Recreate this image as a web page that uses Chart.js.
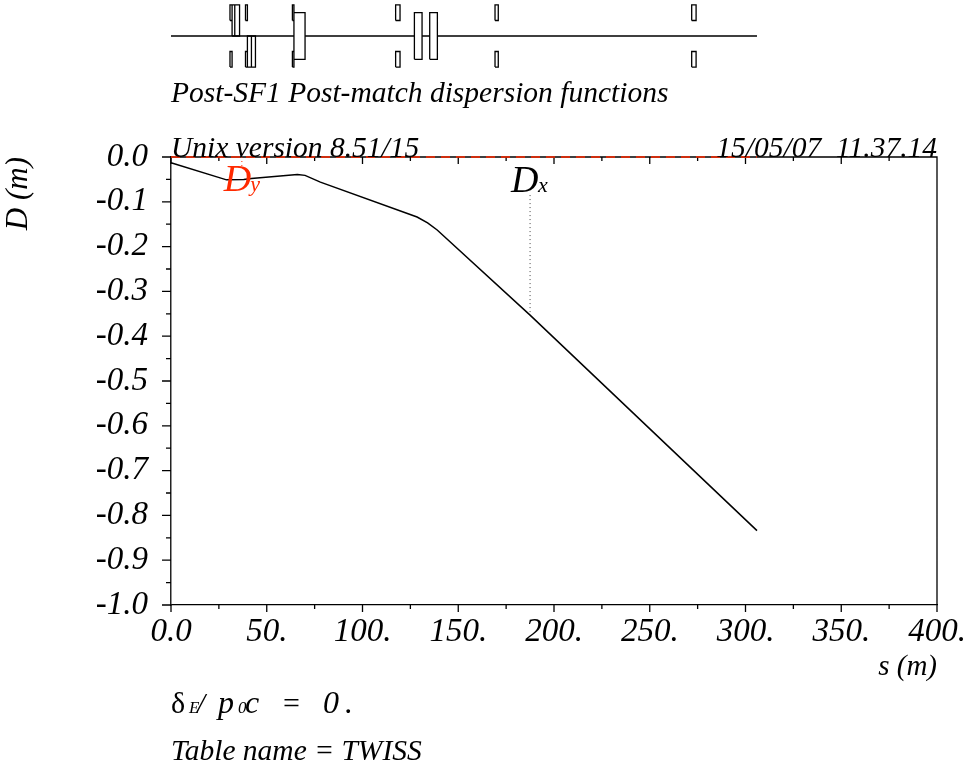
<!DOCTYPE html>
<html>
<head>
<meta charset="utf-8">
<title>Post-SF1 Post-match dispersion functions</title>
<script src="https://cdn.jsdelivr.net/npm/chart.js@4"></script>
<style>
    html, body { margin: 0; background: #fff; }
    canvas { position: absolute; left: 0; top: 0; }
</style>
</head>
<body>
<canvas id="mainChart" width="965" height="765"></canvas>
<canvas id="latticeChart" width="965" height="72"></canvas>
<script>
// Dispersion curves
const sValues = [0, 29, 38, 42, 66, 70, 78, 128.5, 134, 139, 187.5, 306];
const dxValues = [-0.013, -0.051, -0.05, -0.048, -0.039, -0.041, -0.056, -0.134, -0.147, -0.163, -0.353, -0.834];
const dyS = [0, 306];
const dyValues = [0, 0];

// Leader lines from the curve labels
const dxLeaderS = [187.5, 187.5];
const dxLeaderD = [-0.085, -0.353];
const dyLeaderS = [37, 37];
const dyLeaderD = [0, -0.02];

// Axis labels
const xTickLabels = ['0.0', '50.', '100.', '150.', '200.', '250.', '300.', '350.', '400.'];
const yTickLabels = ['0.0', '-0.1', '-0.2', '-0.3', '-0.4', '-0.5', '-0.6', '-0.7', '-0.8', '-0.9', '-1.0'];

// Machine layout strip: [s start, s end, low, high]
const latticeElements = [
    [30.8, 31.9, 0.5, 1], [30.8, 31.9, -1, -0.5],
    [31.9, 33.3, 0, 1], [33.3, 35.8, 0, 1],
    [38.9, 39.9, 0.5, 1], [38.9, 39.9, -1, -0.5],
    [39.9, 42.0, -1, 0], [42.0, 44.1, -1, 0],
    [63.4, 64.2, 0.5, 1], [63.4, 64.2, -1, -0.5],
    [64.2, 70.0, -0.75, 0.75],
    [117.3, 119.6, 0.5, 1], [117.3, 119.6, -1, -0.5],
    [127.1, 131.1, -0.75, 0.75], [135.1, 139.1, -0.75, 0.75],
    [169.2, 170.9, 0.5, 1], [169.2, 170.9, -1, -0.5],
    [271.9, 274.2, 0.5, 1], [271.9, 274.2, -1, -0.5]
];
const beamSegments = [[0, 64.2], [70.0, 127.1], [131.1, 135.1], [139.1, 306]];

const SERIF = '"Liberation Serif", serif';

const toPoints = (xs, ys) => xs.map((x, i) => ({ x, y: ys[i] }));

function latticePoints() {
    const pts = [];
    latticeElements.forEach(([a, b, lo, hi]) => {
        pts.push({ x: a, y: lo }, { x: a, y: hi }, { x: b, y: hi }, { x: b, y: lo }, { x: a, y: lo }, { x: a, y: null });
    });
    return pts;
}

function beamPoints() {
    const pts = [];
    beamSegments.forEach(([a, b]) => {
        pts.push({ x: a, y: 0 }, { x: b, y: 0 }, { x: b, y: null });
    });
    return pts;
}

// Top/right frame lines and the two tick lengths
const framePlugin = {
    id: 'frame',
    beforeDatasetsDraw(chart) {
        const { ctx, chartArea: a, scales } = chart;
        ctx.save();
        ctx.strokeStyle = '#000';
        ctx.lineWidth = 1.3;
        ctx.beginPath();
        ctx.moveTo(a.left, a.top);
        ctx.lineTo(a.right, a.top);
        ctx.lineTo(a.right, a.bottom);
        scales.x.ticks.forEach(t => {
            const px = scales.x.getPixelForValue(t.value);
            const len = t.label ? 7 : 4;
            ctx.moveTo(px, a.top);
            ctx.lineTo(px, a.top + len);
            ctx.moveTo(px, a.bottom);
            ctx.lineTo(px, a.bottom + len);
        });
        scales.y.ticks.forEach(t => {
            const py = scales.y.getPixelForValue(t.value);
            ctx.moveTo(a.left - (t.label ? 9 : 5), py);
            ctx.lineTo(a.left, py);
        });
        ctx.stroke();
        ctx.restore();
    }
};

// Free text around the plot
const textPlugin = {
    id: 'annotations',
    afterDraw(chart) {
        const { ctx } = chart;
        const put = (text, x, y, font, color, align) => {
            ctx.font = font;
            ctx.fillStyle = color || '#000';
            ctx.textAlign = align || 'left';
            ctx.textBaseline = 'alphabetic';
            ctx.fillText(text, x, y);
        };
        const big = 'italic 29.5px ' + SERIF;
        ctx.save();
        put('Post-SF1 Post-match dispersion functions', 171, 102, big);
        put('Unix version 8.51/15', 171, 157, big);
        put('15/05/07  11.37.14', 937, 157, big, '#000', 'right');
        put('Table name = TWISS', 171, 760, big);

        // curve labels sit on the data scales
        const sx = chart.scales.x, sy = chart.scales.y;
        put('D', sx.getPixelForValue(27.5), sy.getPixelForValue(-0.077), 'italic 38px ' + SERIF, '#ff2a00');
        put('y', sx.getPixelForValue(41.4), sy.getPixelForValue(-0.077), 'italic 22px ' + SERIF, '#ff2a00');
        put('D', sx.getPixelForValue(177.5), sy.getPixelForValue(-0.079), 'italic 38px ' + SERIF);
        put('x', sx.getPixelForValue(191.6), sy.getPixelForValue(-0.079), 'italic 22px ' + SERIF);

        // delta_E / p0c = 0.
        put('\u03b4', 171, 713, '30px ' + SERIF);
        put('E', 189, 713, 'italic 17px ' + SERIF);
        put('/', 197, 713, 'italic 29px ' + SERIF);
        put('p', 218, 713, 'italic 32px ' + SERIF);
        put('0', 238, 713, 'italic 17px ' + SERIF);
        put('c', 245, 713, 'italic 32px ' + SERIF);
        put('=', 283, 713, '30px ' + SERIF);
        put('0', 323, 713, 'italic 32px ' + SERIF);
        put('.', 345, 713, 'italic 32px ' + SERIF);
        ctx.restore();
    }
};

new Chart(document.getElementById('mainChart'), {
    type: 'line',
    data: {
        datasets: [
            { label: 'Dy', data: toPoints(dyS, dyValues), borderColor: '#ff2a00', borderWidth: 1.5, borderDash: [9, 6] },
            { label: 'Dx', data: toPoints(sValues, dxValues), borderColor: '#000', borderWidth: 1.5 },
            { label: 'Dx leader', data: toPoints(dxLeaderS, dxLeaderD), borderColor: '#444', borderWidth: 1, borderDash: [1, 3] },
            { label: 'Dy leader', data: toPoints(dyLeaderS, dyLeaderD), borderColor: '#ff2a00', borderWidth: 1, borderDash: [1, 3] }
        ]
    },
    options: {
        responsive: false,
        animation: false,
        events: [],
        clip: false,
        elements: { point: { radius: 0 }, line: { tension: 0 } },
        layout: { autoPadding: false, padding: { top: 157, right: 28 } },
        plugins: { legend: { display: false }, tooltip: { enabled: false } },
        scales: {
            x: {
                type: 'linear',
                min: 0,
                max: 400,
                afterFit: s => { s.height = 160; s.paddingLeft = 0; s.paddingRight = 0; },
                grid: { display: false, drawTicks: false },
                border: { color: '#000', width: 1.3 },
                ticks: {
                    stepSize: 25,
                    autoSkip: false,
                    maxRotation: 0,
                    padding: 8,
                    color: '#000',
                    font: { family: SERIF, style: 'italic', size: 33 },
                    callback: v => (v % 50 === 0 ? xTickLabels[v / 50] : '')
                },
                title: {
                    display: true,
                    text: 's (m)',
                    align: 'end',
                    color: '#000',
                    font: { family: SERIF, style: 'italic', size: 29 },
                    padding: { top: 0, bottom: 80 }
                }
            },
            y: {
                type: 'linear',
                min: -1,
                max: 0,
                afterFit: s => { s.width = 171; s.paddingTop = 0; s.paddingBottom = 0; },
                grid: { display: false, drawTicks: false },
                border: { color: '#222', width: 1.5 },
                ticks: {
                    stepSize: 0.05,
                    autoSkip: false,
                    padding: 23,
                    color: '#000',
                    font: { family: SERIF, style: 'italic', size: 33 },
                    callback: v => {
                        const i = Math.round(-v * 20);
                        return i % 2 === 0 ? yTickLabels[i / 2] : '';
                    }
                },
                title: {
                    display: true,
                    text: 'D (m)',
                    align: 'end',
                    color: '#000',
                    font: { family: SERIF, style: 'italic', size: 31 },
                    padding: 0
                }
            }
        }
    },
    plugins: [framePlugin, textPlugin]
});

new Chart(document.getElementById('latticeChart'), {
    type: 'line',
    data: {
        datasets: [
            { label: 'beam', data: beamPoints(), borderColor: '#000', borderWidth: 1.3 },
            { label: 'elements', data: latticePoints(), borderColor: '#000', borderWidth: 1.3 }
        ]
    },
    options: {
        responsive: false,
        animation: false,
        events: [],
        clip: false,
        elements: { point: { radius: 0 }, line: { tension: 0 } },
        layout: { autoPadding: false, padding: { left: 171, right: 28 } },
        plugins: { legend: { display: false }, tooltip: { enabled: false } },
        scales: {
            x: { type: 'linear', min: 0, max: 400, display: false },
            y: { type: 'linear', min: -1.16, max: 1.16, display: false }
        }
    }
});
</script>
</body>
</html>
